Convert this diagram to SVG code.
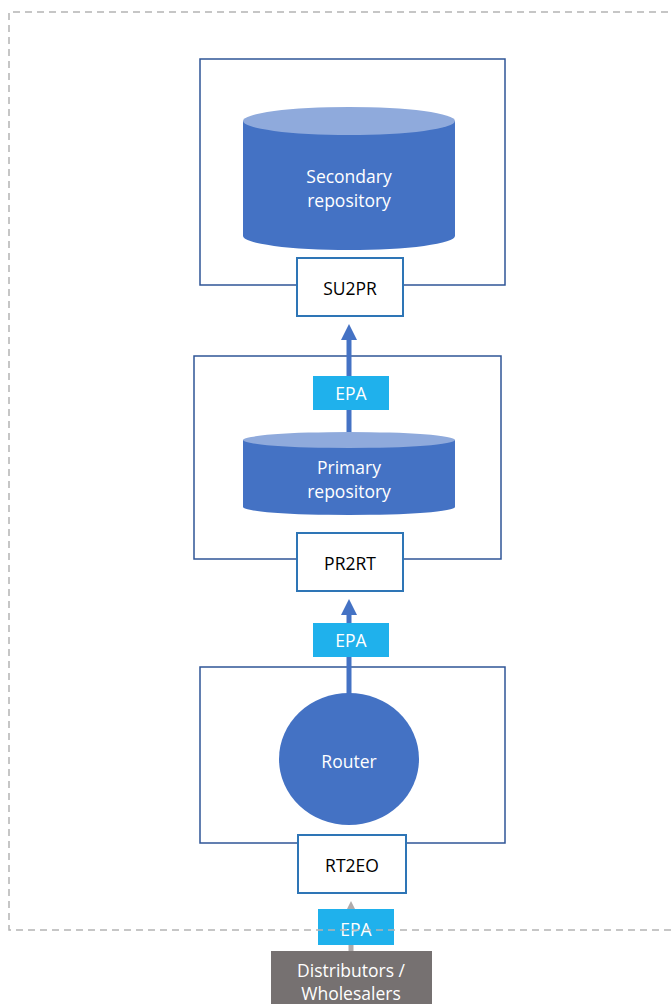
<svg xmlns="http://www.w3.org/2000/svg" width="672" height="1004" viewBox="0 0 672 1004">
<style>
text{font-family:"Open Sans","Liberation Sans",sans-serif;font-size:17.5px;text-anchor:middle;dominant-baseline:central}
.frame{fill:none;stroke:#2F5597;stroke-width:1.5}
.port{fill:#fff;stroke:#2E75B6;stroke-width:2}
.dark{fill:#000}
.white{fill:#fff}
.epa{fill:#1FB1EC}
.body{fill:#4472C4}
.top{fill:#8FAADC}
</style>
<defs>
<marker id="ab" markerWidth="4" markerHeight="4" refX="2" refY="2" orient="auto" markerUnits="strokeWidth"><path d="M0,0.4 L3.2,2 L0,3.6 Z" fill="#4472C4"/></marker>
<marker id="ag" markerWidth="4" markerHeight="4" refX="2" refY="2" orient="auto" markerUnits="strokeWidth"><path d="M0,0.4 L3.2,2 L0,3.6 Z" fill="#AFABAB"/></marker>
</defs>
<rect x="0" y="0" width="672" height="1004" fill="#fff"/>

<g id="secondary-group">
<rect class="frame" x="200" y="59" width="305" height="226"/>
<g id="secondary-repository">
<path class="body" d="M243,121 L243,236 A106,14 0 0 0 455,236 L455,121 Z"/>
<ellipse class="top" cx="349" cy="121" rx="106" ry="14"/>
<text class="white" x="349" y="176">Secondary</text>
<text class="white" x="349" y="200">repository</text>
</g>
</g>
<g id="SU2PR"><rect class="port" x="297" y="258" width="106" height="58"/><text class="dark" x="350" y="288">SU2PR</text></g>

<g id="primary-group">
<rect class="frame" x="194" y="356" width="307" height="203"/>
</g>

<g id="router-group">
<rect class="frame" x="200" y="667" width="305" height="176"/>
</g>

<g id="connectors">
<line x1="349" y1="432" x2="349" y2="330" stroke="#4472C4" stroke-width="5" marker-end="url(#ab)"/>
<line x1="349" y1="694" x2="349" y2="605" stroke="#4472C4" stroke-width="5" marker-end="url(#ab)"/>
<line x1="351" y1="951" x2="351" y2="907" stroke="#AFABAB" stroke-width="5" marker-end="url(#ag)"/>
</g>

<g id="primary-repository">
<path class="body" d="M243,440 L243,507 A106,8 0 0 0 455,507 L455,440 Z"/>
<ellipse class="top" cx="349" cy="440" rx="106" ry="8"/>
<text class="white" x="349" y="467">Primary</text>
<text class="white" x="349" y="491">repository</text>
</g>
<g id="EPA-1"><rect class="epa" x="313" y="376" width="76" height="34"/><text class="white" x="351" y="393">EPA</text></g>
<g id="PR2RT"><rect class="port" x="297" y="533" width="106" height="58"/><text class="dark" x="350" y="563">PR2RT</text></g>
<g id="EPA-2"><rect class="epa" x="313" y="623" width="76" height="34"/><text class="white" x="351" y="640">EPA</text></g>
<g id="router"><ellipse class="body" cx="349" cy="759" rx="70" ry="66"/><text class="white" x="349" y="761">Router</text></g>
<g id="RT2EO"><rect class="port" x="298" y="835" width="108" height="58"/><text class="dark" x="352" y="865">RT2EO</text></g>
<g id="EPA-3"><rect class="epa" x="318" y="909" width="76" height="36"/><text class="white" x="356" y="929">EPA</text></g>
<g id="distributors"><rect x="271" y="951" width="161" height="60" fill="#767171"/><text class="white" x="351" y="970">Distributors /</text><text class="white" x="351" y="993">Wholesalers</text></g>

<path d="M680,12 L9,12 L9,930 L680,930" fill="none" stroke="#B4B4B4" stroke-width="1.5" stroke-dasharray="7,5"/>
</svg>
